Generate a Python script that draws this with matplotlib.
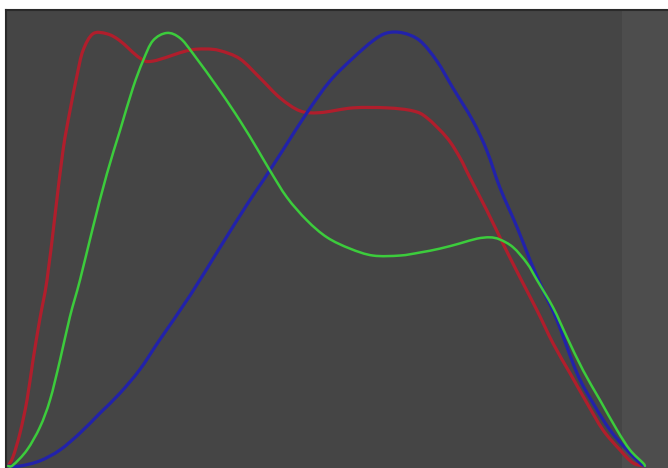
import numpy as np
import matplotlib.pyplot as plt
from matplotlib.path import Path
from matplotlib.patches import PathPatch

# histogram levels (0-255) and relative counts (% of max)
red_lvl = [0, 2.0, 4.8, 7.6, 10.0, 12.8, 15.6, 18.8, 22.0, 24.8, 27.6, 30.0, 34.0, 39.6,
           44.8, 52.8, 58.0, 71.7, 78.9, 84.9, 92.9, 100.9, 108.9, 116.9, 124.9,
           138.1, 151.7, 162.1, 167.7, 175.7, 180.9, 184.9, 191.7, 198.1, 205.0, 211.8,
           218.2, 225.0, 231.8, 238.2, 245.0, 250.2, 255]
red_val = [0, 2.1, 7.6, 15.2, 24.4, 34.1, 42.9, 57.8, 72.8, 82.0, 90.1, 95.9, 99.8, 99.8,
           98.2, 94.2, 93.5, 95.9, 96.3, 95.9, 94.0, 89.6, 85.0, 82.0, 81.6,
           82.7, 82.7, 82.0, 80.4, 75.8, 71.2, 66.6, 59.0, 51.4, 43.5, 35.9,
           28.3, 21.4, 14.5, 8.3, 3.7, 0.7, 0]

green_lvl = [0, 2.0, 7.6, 12.8, 16.8, 20.8, 24.8, 28.8, 34.0, 39.6, 44.8, 50.0, 54.0, 58.0,
             63.6, 68.9, 74.1, 84.9, 92.9, 99.7, 104.9, 111.7, 119.7, 127.7, 136.9, 146.1,
             156.9, 164.9, 172.9, 180.9, 187.7, 192.9, 196.9, 202.2, 207.8, 211.8, 218.2,
             223.8, 230.2, 237.0, 243.8, 249.0, 254.2, 255]
green_val = [0, 0.2, 3.7, 9.0, 15.2, 24.4, 34.5, 42.9, 55.1, 67.5, 77.4, 87.3, 93.5, 98.2,
             100, 98.8, 95.2, 86.6, 79.7, 73.3, 68.2, 62.0, 56.7, 52.8, 50.2, 48.6,
             48.6, 49.3, 50.2, 51.4, 52.5, 52.8, 52.3, 50.5, 46.8, 42.9, 36.6,
             29.7, 22.1, 15.2, 8.3, 3.7, 0.7, 0]

blue_lvl = [0, 4.8, 12.8, 20.8, 28.8, 36.8, 44.8, 52.8, 60.8, 72.9, 84.9, 95.7, 102.1,
            110.1, 119.7, 128.9, 138.1, 146.1, 151.7, 158.1, 164.9, 171.7, 178.1, 186.1,
            191.7, 196.9, 203.8, 209.0, 214.2, 219.8, 227.8, 234.2, 241.0, 247.8, 253.0, 255]
blue_val = [0, 0, 1.2, 3.7, 7.6, 12.2, 16.8, 22.3, 29.2, 39.4, 50.5, 60.4, 65.9,
            73.0, 81.6, 88.9, 94.2, 98.2, 100, 100, 98.2, 93.5, 87.3, 79.7,
            72.8, 64.3, 55.1, 47.5, 40.6, 33.6, 21.4, 14.5, 8.3, 3.7, 0.7, 0]


def smooth_path(xs, ys):
    # catmull-rom through the points, drawn as cubic bezier segments
    p = np.column_stack([xs, ys]).astype(float)
    ext = np.vstack([p[0], p, p[-1]])
    verts = [p[0]]
    codes = [Path.MOVETO]
    for i in range(1, len(ext) - 2):
        p0, p1, p2, p3 = ext[i - 1], ext[i], ext[i + 1], ext[i + 2]
        verts += [p1 + (p2 - p0) / 6, p2 - (p3 - p1) / 6, p2]
        codes += [Path.CURVE4] * 3
    return Path(verts, codes)


fig = plt.figure(figsize=(6.68, 4.68), dpi=100, facecolor='white')
ax = fig.add_axes([6 / 668, 0, 662 / 668, 458 / 468])
ax.set_facecolor('#454545')

# lighter strip on the right side of the panel
ax.axvspan(245.8, 270, color='#4d4d4d', lw=0, zorder=0)

for xs, ys, c, w in [(red_lvl, red_val, '#b01e2c', 2.3),
                     (blue_lvl, blue_val, '#2222aa', 2.3),
                     (green_lvl, green_val, '#3ccc3c', 1.8)]:
    ax.add_patch(PathPatch(smooth_path(xs, ys), fill=False, edgecolor=c, lw=w,
                           capstyle='round', joinstyle='round'))

ax.set_xlim(-0.8, 264.2)
ax.set_ylim(-0.46, 105.3)
ax.set_xticks([])
ax.set_yticks([])
for side in ('right', 'bottom'):
    ax.spines[side].set_visible(False)
for side in ('top', 'left'):
    ax.spines[side].set_color('#2a2a2a')
    ax.spines[side].set_linewidth(1.5)

fig.savefig('out.png', dpi=100, facecolor='white')
